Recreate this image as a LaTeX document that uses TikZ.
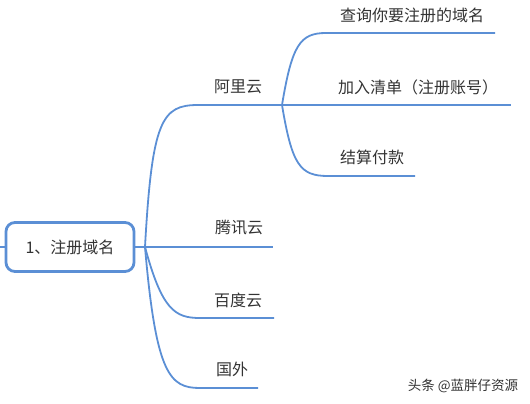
\documentclass[tikz,border=0pt]{standalone}
\usepackage{fontspec}
\setmainfont{Noto Sans CJK SC}
\definecolor{mblue}{RGB}{91,143,213}
\definecolor{mtext}{RGB}{51,51,51}

\begin{document}
\begin{tikzpicture}[x=1pt, y=-1pt,
    branch/.style={draw=mblue, line width=1.8pt},
    topic/.style={text=mtext, font=\fontsize{16}{19}\selectfont, inner sep=0pt}]
    \useasboundingbox (0,0) rectangle (530,404);

    \node[rectangle, draw=mblue, line width=2.8pt, rounded corners=9pt, minimum width=128pt, minimum height=49pt, topic] (root) at (70,247) {1、注册域名};
    \coordinate (lft) at (0,247);
    \coordinate (hub) at (145,247);
    \coordinate (ali) at (282,105);

    % first level
    \node[topic] (aliyun)  at (238,87)  {阿里云};
    \node[topic] (tencent) at (239,228) {腾讯云};
    \node[topic] (baidu)   at (238,300) {百度云};
    \node[topic] (abroad)  at (232,369) {国外};
    \coordinate (aliL) at (198,105);
    \coordinate (tenR) at (273,247);
    \coordinate (baiL) at (200,318);  \coordinate (baiR) at (274,318);
    \coordinate (abrL) at (200,388);  \coordinate (abrR) at (258,388);

    % second level
    \node[topic] (query) at (412,15)  {查询你要注册的域名};
    \node[topic] (cart)  at (418,87)  {加入清单（注册账号）};
    \node[topic] (pay)   at (372,157) {结算付款};
    \coordinate (qryL) at (326,33);   \coordinate (qryR) at (495,33);
    \coordinate (crtR) at (511,105);
    \coordinate (payL) at (328,176);  \coordinate (payR) at (415,176);

    \node[text=mtext, font=\fontsize{13.5}{16}\selectfont, inner sep=0pt] (mark) at (463,386) {头条 @蓝胖仔资源};

    \draw[branch] (lft) -- (root.west);
    \draw[branch] (root.east) -- (hub);
    \draw[branch] (hub) .. controls (152,120) and (162,105) .. (aliL) -- (ali);
    \draw[branch] (hub) -- (tenR);
    \draw[branch] (hub) .. controls (162,310) and (175,318) .. (baiL) -- (baiR);
    \draw[branch] (hub) .. controls (156,375) and (170,388) .. (abrL) -- (abrR);
    \draw[branch] (ali) .. controls (292,45) and (300,33) .. (qryL) -- (qryR);
    \draw[branch] (ali) -- (crtR);
    \draw[branch] (ali) .. controls (292,165) and (300,176) .. (payL) -- (payR);
\end{tikzpicture}
\end{document}
